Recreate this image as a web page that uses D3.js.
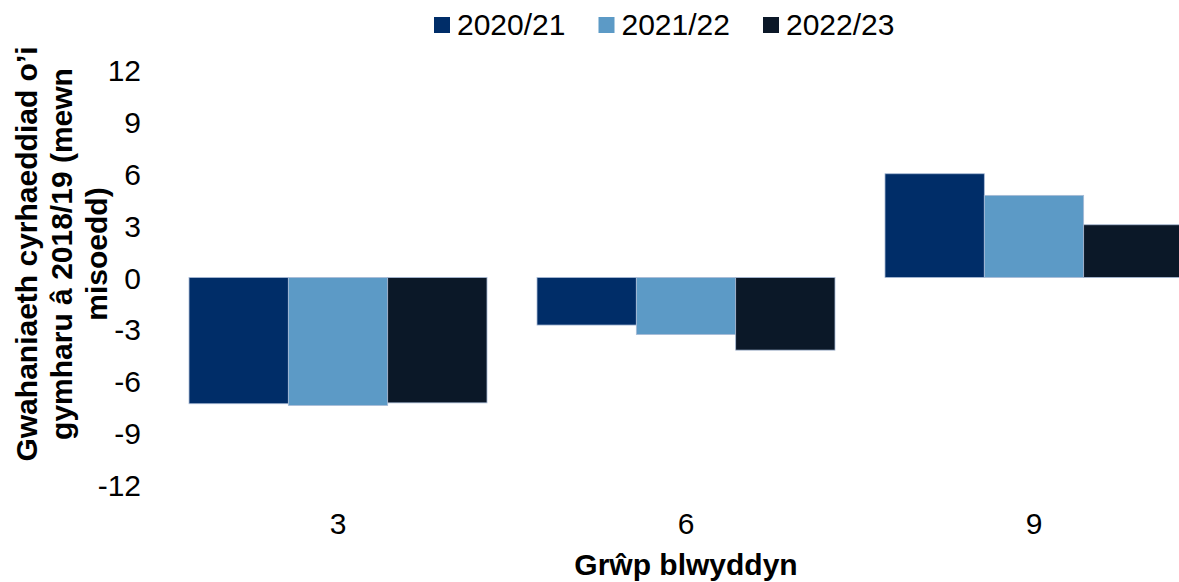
<!DOCTYPE html>
<html>
<head>
<meta charset="utf-8">
<script src="https://cdn.jsdelivr.net/npm/d3@7"></script>
<style>
  body { margin: 0; background: #fff; }
  text { font-family: "Liberation Sans", Arial, sans-serif; fill: #000; }
</style>
</head>
<body>
<div id="chart"></div>
<script>
// Data
var groups = ["3", "6", "9"];
var seriesNames = ["2020/21", "2021/22", "2022/23"];
var v2020 = [-7.3, -2.75, 6.0];
var v2021 = [-7.4, -3.3, 4.75];
var v2022 = [-7.25, -4.2, 3.05];
var yTicks = [12, 9, 6, 3, 0, -3, -6, -9, -12];
var colors = ["#002d68", "#5c9ac6", "#0b1828"];

var seriesValues = [v2020, v2021, v2022];

var width = 1179, height = 582;

var svg = d3.select("#chart")
  .append("svg")
  .attr("width", width)
  .attr("height", height);

// Scales
var x0 = d3.scaleBand()
  .domain(groups)
  .range([164, 1208])
  .paddingInner(0.1437)
  .paddingOuter(0.0719);

var x1 = d3.scaleBand()
  .domain(seriesNames)
  .range([0, x0.bandwidth()]);

var y = d3.scaleLinear()
  .domain([-12, 12])
  .range([485, 70]);

var color = d3.scaleOrdinal().domain(seriesNames).range(colors);

// Bars
var g = svg.append("g");
groups.forEach(function(grp, i) {
  g.selectAll(null)
    .data(seriesNames.map(function(s, j) { return { s: s, v: seriesValues[j][i] }; }))
    .enter()
    .append("rect")
    .attr("x", function(d) { return x0(grp) + x1(d.s); })
    .attr("width", x1.bandwidth())
    .attr("y", function(d) { return y(Math.max(0, d.v)); })
    .attr("height", function(d) { return Math.abs(y(d.v) - y(0)); })
    .style("fill", function(d) { return color(d.s); })
    .style("stroke", "#a9bbd6")
    .style("stroke-width", 0.8);
});

// Y axis (labels only), plain hyphen for negatives
var yAxis = svg.append("g")
  .attr("transform", "translate(141,0)")
  .call(d3.axisLeft(y).tickValues(yTicks).tickFormat(function(d) { return String(d); }).tickSize(0).tickPadding(0));
yAxis.select(".domain").remove();
yAxis.selectAll("text")
  .style("font-size", "30px")
  .attr("dy", "0.35em");

// X axis (labels only)
var xAxis = svg.append("g")
  .attr("transform", "translate(0,508)")
  .call(d3.axisBottom(x0).tickSize(0).tickPadding(0));
xAxis.select(".domain").remove();
xAxis.selectAll("text")
  .style("font-size", "30px")
  .attr("dy", "0.85em");

// Axis titles
svg.append("text")
  .attr("x", 686)
  .attr("y", 575)
  .attr("text-anchor", "middle")
  .style("font-size", "30px")
  .style("font-weight", "bold")
  .text("Grŵp blwyddyn");

var yTitle = svg.append("text")
  .attr("transform", "translate(37,254) rotate(-90)")
  .attr("text-anchor", "middle")
  .style("font-size", "30px")
  .style("font-weight", "bold");
["Gwahaniaeth cyrhaeddiad o’i", "gymharu â 2018/19 (mewn", "misoedd)"].forEach(function(line, i) {
  yTitle.append("tspan")
    .attr("x", 0)
    .attr("y", i * 35)
    .text(line);
});

// Legend
var legend = svg.append("g").selectAll("g")
  .data(seriesNames)
  .enter()
  .append("g")
  .attr("transform", function(d, i) { return "translate(" + (434 + i * 164.5) + ",0)"; });

legend.append("rect")
  .attr("x", 0)
  .attr("y", 17)
  .attr("width", 16)
  .attr("height", 16)
  .style("fill", function(d) { return color(d); });

legend.append("text")
  .attr("x", 23)
  .attr("y", 35)
  .style("font-size", "30px")
  .text(function(d) { return d; });
</script>
</body>
</html>
